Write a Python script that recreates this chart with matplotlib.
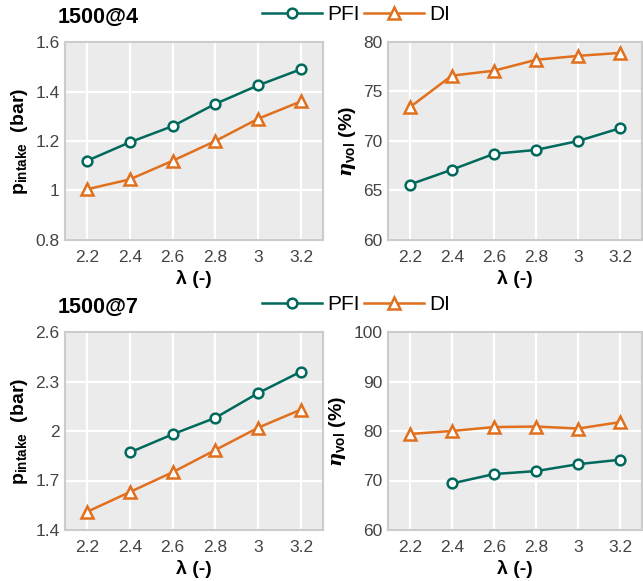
import matplotlib
matplotlib.use("Agg")
import matplotlib.pyplot as plt
import numpy as np
from matplotlib.ticker import FuncFormatter

plt.rcParams['font.family'] = ['Liberation Sans', 'DejaVu Sans']
plt.rcParams['mathtext.fontset'] = 'custom'
plt.rcParams['mathtext.rm'] = 'Liberation Sans'
plt.rcParams['mathtext.bf'] = 'Liberation Sans:bold'
plt.rcParams['mathtext.it'] = 'DejaVu Serif:bold:italic'

lam = [2.2, 2.4, 2.6, 2.8, 3.0, 3.2]

# 1500@4
p4_pfi = [1.12, 1.195, 1.26, 1.35, 1.425, 1.49]
p4_di = [1.005, 1.045, 1.12, 1.20, 1.29, 1.36]
eta4_pfi = [65.6, 67.1, 68.7, 69.1, 70.0, 71.3]
eta4_di = [73.4, 76.6, 77.1, 78.2, 78.6, 78.9]

# 1500@7
p7_pfi = [np.nan, 1.87, 1.98, 2.08, 2.23, 2.36]
p7_di = [1.51, 1.63, 1.75, 1.885, 2.02, 2.13]
eta7_pfi = [np.nan, 69.4, 71.3, 71.9, 73.3, 74.2]
eta7_di = [79.4, 80.0, 80.8, 80.9, 80.5, 81.8]

teal = '#00695c'
orange = '#e0701e'

fig = plt.figure(figsize=(6.43, 5.81), dpi=100)

W, H = 643, 581
def ax_at(l, t, r, b):
    return fig.add_axes([l / W, 1 - b / H, (r - l) / W, (b - t) / H])

axes = [ax_at(65, 42, 323, 240), ax_at(388, 42, 642, 240),
        ax_at(65, 332, 323, 530), ax_at(388, 332, 642, 530)]

data = [(p4_pfi, p4_di), (eta4_pfi, eta4_di), (p7_pfi, p7_di), (eta7_pfi, eta7_di)]
ylims = [(0.8, 1.6), (60, 80), (1.4, 2.6), (60, 100)]
yticks = [[0.8, 1.0, 1.2, 1.4, 1.6], [60, 65, 70, 75, 80],
          [1.4, 1.7, 2.0, 2.3, 2.6], [60, 70, 80, 90, 100]]
ylabels = [r'$\mathbf{p_{intake}}$  (bar)', r'$\mathit{\eta}_{\mathbf{vol}}$ (%)',
           r'$\mathbf{p_{intake}}$  (bar)', r'$\mathit{\eta}_{\mathbf{vol}}$ (%)']

fmt = FuncFormatter(lambda v, p: ('%g' % round(v, 6)))

for ax, (pfi, di), yl, yt, ylab in zip(axes, data, ylims, yticks, ylabels):
    ax.set_facecolor('#ebebeb')
    ax.grid(True, color='white', linewidth=1.6)
    ax.set_axisbelow(True)
    l1, = ax.plot(lam, pfi, color=teal, lw=1.8, marker='o', ms=7, mfc='white',
                  mec=teal, mew=1.8, label='PFI', zorder=3)
    l2, = ax.plot(lam, di, color=orange, lw=1.8, marker='^', ms=8, mfc='white',
                  mec=orange, mew=1.8, label='DI', zorder=3)
    ax.set_xlim(2.097, 3.303)
    ax.set_xticks(lam)
    ax.xaxis.set_major_formatter(fmt)
    ax.set_ylim(*yl)
    ax.set_yticks(yt)
    ax.yaxis.set_major_formatter(fmt)
    for s in ax.spines.values():
        s.set_color('#cccccc')
        s.set_linewidth(1.5)
    ax.tick_params(length=0, labelsize=12.5, labelcolor='#444444')
    ax.tick_params(axis='x', pad=7)
    ax.tick_params(axis='y', pad=4)
    ax.set_xlabel('λ (-)', fontsize=14, fontweight='bold', labelpad=4)
    ax.set_ylabel(ylab, fontsize=14, fontweight='bold', labelpad=4)

fig.text(58 / W, 1 - 17 / H, '1500@4', fontsize=15.5, fontweight='bold', va='center', ha='left')
fig.text(58 / W, 1 - 307 / H, '1500@7', fontsize=15.5, fontweight='bold', va='center', ha='left')

for ycen in [15, 305]:
    fig.legend([l1, l2], ['PFI', 'DI'], ncol=2, frameon=False, fontsize=15,
               loc='center', bbox_to_anchor=(356 / W, 1 - ycen / H),
               handlelength=2.9, handletextpad=0.25, columnspacing=0.2,
               borderpad=0, borderaxespad=0)

fig.savefig('out.png', dpi=100)
